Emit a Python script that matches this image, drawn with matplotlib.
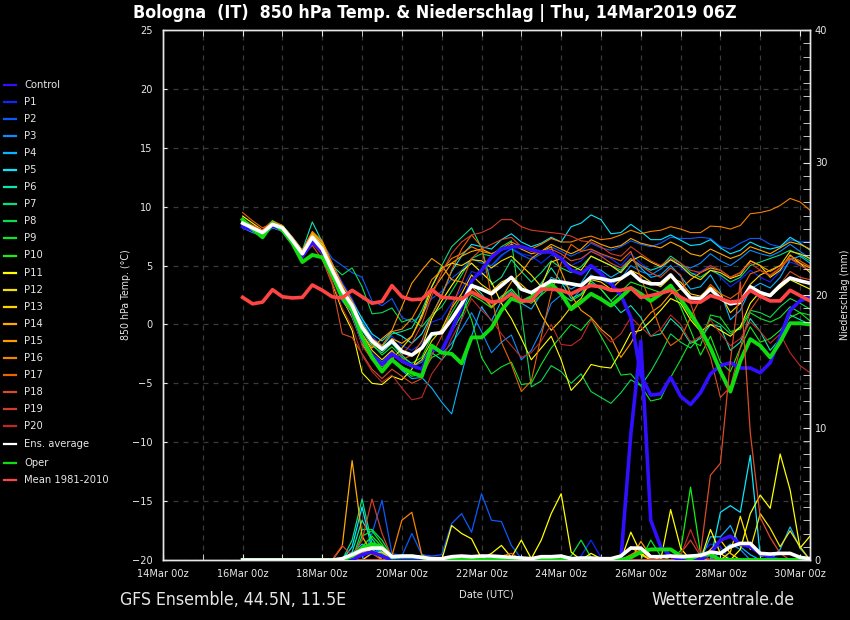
import matplotlib
matplotlib.use('Agg')
import matplotlib.pyplot as plt
import matplotlib.dates as mdates
from matplotlib.lines import Line2D
from matplotlib.ticker import MultipleLocator, FixedLocator
import numpy as np
import pandas as pd

plt.rcParams['font.family'] = ['DejaVu Sans']
plt.rcParams['font.stretch'] = 'condensed'

# ---------------- data ----------------
times = pd.date_range('2019-03-16 00:00', periods=58, freq='6h')
major_days = pd.date_range('2019-03-14 00:00', '2019-03-30 00:00', freq='2D')
minor_days = pd.date_range('2019-03-14 00:00', '2019-03-30 00:00', freq='1D')

labels = ['Control'] + ['P%d' % k for k in range(1, 21)]
colors = ['#3010ff', '#0a28ff', '#0a5aff', '#0a8cff', '#0ab4ff', '#0ae6ff',
          '#0ae6b4', '#0adc82', '#0adc50', '#0ae628', '#14f014', '#ffff00',
          '#f5e100', '#ffd200', '#ffaa00', '#ff9a00', '#f58200', '#eb6400',
          '#dc4b28', '#d23c28', '#c02828']

ctrl = [8.3,8.0,7.6,8.4,8.0,7.0,5.8,7.0,6.2,4.4,
        2.6,1.0,-1.3,-2.6,-3.4,-2.5,-3.1,-3.5,-3.8,-2.1,
        -2.25,-0.5,1.5,3.7,4.6,5.7,6.4,6.6,6.6,6.35,
        6.15,6.15,5.6,4.6,4.3,5.0,4.3,3.45,2.5,0.6,
        -4.3,-6.0,-5.9,-4.5,-6.1,-6.8,-5.8,-4.2,-3.5,-3.25,
        -3.7,-3.7,-4.1,-3.25,-1.1,1.2,2.0,2.3]
P1 = [8.4,8.0,7.7,8.5,8.1,7.2,6.2,7.6,6.6,5.2,
      3.6,2.2,0.4,-1.0,-1.8,-1.0,-1.8,-2.2,-1.6,0.2,
      0.5,1.8,3.0,4.5,4.2,4.8,5.8,6.5,6.0,5.8,
      5.2,5.9,5.5,5.0,5.4,6.3,5.9,5.6,5.0,6.0,
      5.2,4.6,4.9,5.6,4.8,4.2,4.5,5.0,4.0,3.2,
      3.8,4.6,4.0,3.6,4.5,5.3,5.0,4.6]
P2 = [8.5,8.1,7.7,8.4,8.2,7.3,6.3,7.8,6.9,5.6,
      5.0,4.4,4.0,2.0,1.6,2.2,0.6,0.2,0.8,2.2,
      2.8,3.9,4.6,5.6,5.2,5.0,5.9,6.4,5.9,5.5,
      6.0,6.6,6.2,5.8,6.2,6.9,6.5,6.3,6.6,7.1,
      6.8,6.6,6.9,7.4,7.3,7.3,7.4,7.3,6.6,6.4,
      6.9,7.3,7.3,6.8,6.6,7.2,7.0,7.0]
P3 = [8.3,7.9,7.6,8.3,8.0,7.1,6.1,7.3,6.3,4.0,
      2.0,0.9,-1.2,-2.5,-3.2,-2.3,-3.0,-3.6,-3.2,-1.8,
      -2.5,-1.6,-0.4,1.0,-0.6,-2.4,-1.5,-0.9,-3.0,-2.2,
      -0.5,1.8,2.5,2.0,3.0,4.2,3.8,3.4,3.9,5.0,
      4.5,4.2,4.7,5.5,5.0,4.8,5.2,6.0,5.4,5.0,
      5.6,6.3,6.0,5.8,6.2,6.8,6.2,5.6]
P4 = [8.2,7.8,7.5,8.2,7.9,7.0,6.0,7.2,6.3,4.3,
      2.5,0.8,-1.5,-2.8,-3.4,-2.9,-3.9,-4.6,-4.5,-5.4,
      -6.6,-7.6,-4.2,-1.0,1.5,0.3,2.0,2.8,1.8,1.3,
      2.6,4.0,3.6,3.0,3.5,4.8,4.6,4.0,4.5,5.6,
      4.8,4.0,4.2,5.0,4.1,3.0,3.2,4.2,2.8,0.4,
      1.2,3.0,3.5,3.1,4.0,5.5,5.8,5.2]
P5 = [8.5,8.2,7.9,8.6,8.4,7.4,6.3,7.6,6.8,4.8,
      3.4,2.0,0.5,-0.8,-1.4,-0.6,-1.0,-1.6,-0.8,0.8,
      2.5,4.5,5.8,6.8,6.6,6.4,7.2,7.7,7.0,6.6,
      6.9,7.4,7.0,8.3,8.6,9.3,8.9,7.7,7.8,8.5,
      7.9,7.2,7.2,7.6,7.15,6.7,6.8,7.2,6.5,6.0,
      6.3,7.0,6.6,6.4,6.6,7.4,6.9,6.3]
P6 = [8.6,8.3,7.9,8.7,8.4,7.4,6.3,8.7,7.0,4.9,
      3.0,1.5,-0.5,-1.8,-2.4,-1.6,-2.6,-3.4,-3.8,-2.4,
      -3.0,-2.0,0.5,3.5,2.6,1.5,2.4,3.0,2.0,2.4,
      3.5,4.8,3.6,2.2,2.6,3.7,3.0,2.0,1.0,1.6,
      0.6,-1.0,-0.8,0.5,-0.3,-1.6,-1.2,0.0,-0.2,-2.2,
      -1.5,0.5,-0.6,-2.2,-1.2,0.8,0.4,0.0]
P7 = [8.4,8.1,7.8,8.6,8.2,7.2,6.1,7.6,6.6,4.6,
      3.0,1.6,0.2,-1.2,-1.9,-0.8,-0.6,-0.3,1.2,3.2,
      5.0,6.6,7.4,8.2,6.5,3.4,4.0,5.5,4.5,3.6,
      4.4,5.4,4.8,4.4,4.9,5.8,5.4,5.0,4.6,5.6,
      5.0,4.6,4.9,5.8,5.2,4.4,4.0,4.6,4.2,3.6,
      4.0,5.0,5.3,5.6,5.9,6.3,5.9,5.4]
P8 = [8.3,8.0,7.7,8.5,8.1,7.1,6.0,7.5,6.6,5.0,
      4.2,4.8,3.2,0.9,1.0,1.4,0.2,0.5,-0.2,0.8,
      1.5,2.8,4.2,5.6,6.0,5.8,6.6,7.1,1.0,-5.3,
      -4.8,-3.5,-4.0,-5.0,-4.2,-5.7,-6.2,-6.7,-5.8,-4.7,
      -5.2,-4.0,-2.5,-0.8,-1.5,-2.0,-1.0,0.5,0.0,-0.8,
      -0.2,1.2,1.0,0.6,1.5,2.2,1.8,1.3]
P9 = [8.5,8.1,7.8,8.5,8.1,7.1,6.0,7.3,6.4,4.6,
      3.0,1.4,0.0,-1.6,-2.6,-1.9,-2.8,-3.3,-2.8,-1.0,
      -0.6,1.0,2.4,0.4,-2.8,-4.2,-3.6,-3.2,-5.1,-5.0,
      -3.4,-2.0,-1.0,0.0,-0.5,0.5,-1.0,-2.5,-4.3,-4.2,
      -5.2,-6.5,-6.3,-4.5,-3.0,-1.4,-1.8,0.8,0.6,-0.6,
      -0.4,1.0,0.5,0.2,0.6,1.5,1.0,0.8]
P10 = [8.7,8.3,7.9,8.7,8.2,7.1,5.9,7.2,6.3,4.2,
       2.4,1.0,-1.0,-2.5,-3.6,-3.0,-3.8,-4.4,-4.2,-2.8,
       -2.4,-0.6,0.8,2.5,2.0,1.4,2.2,3.0,2.1,1.8,
       2.5,3.2,2.6,2.0,2.5,3.5,3.0,2.0,2.8,3.6,
       3.3,3.0,2.7,3.2,1.5,-0.5,-2.6,-1.0,-3.2,-4.0,
       -2.0,-0.2,-1.5,-1.2,-0.5,0.6,1.0,0.3]
P11 = [9.2,8.6,8.0,8.4,8.0,7.2,6.0,7.4,6.2,3.5,
       1.2,-0.5,-4.1,-5.0,-5.1,-4.4,-4.7,-3.8,-2.0,0.5,
       2.0,3.3,4.5,5.2,4.4,3.6,1.8,0.5,-1.2,-3.0,
       -2.0,-1.0,-3.0,-5.6,-4.7,-3.4,-3.6,-3.7,-2.3,-0.7,
       -0.5,0.3,1.2,2.2,1.8,0.4,-0.6,0.0,-0.5,-1.0,
       -0.2,1.8,2.8,2.4,3.1,3.8,3.4,3.0]
P12 = [8.8,8.3,7.9,8.6,8.2,7.3,6.2,7.7,6.8,4.4,
       2.2,0.6,-1.6,-3.0,-3.8,-3.0,-2.0,-1.0,0.8,3.2,
       4.8,5.2,5.0,5.5,5.4,4.8,5.4,5.8,5.0,4.2,
       3.2,5.3,5.6,5.0,4.6,5.8,5.4,5.0,4.4,5.4,
       5.8,5.3,4.9,5.5,5.0,4.2,3.8,4.6,4.4,3.9,
       4.2,5.4,5.0,4.0,4.6,5.9,5.2,4.4]
P13 = [8.6,8.2,7.9,8.5,8.1,7.2,6.1,7.5,6.5,4.5,
       2.6,1.2,-0.8,-2.2,-3.0,-2.2,-3.2,-3.6,-3.0,-1.4,
       -0.4,1.4,2.6,4.2,3.4,2.8,3.6,4.0,3.4,2.6,
       0.8,-0.5,0.4,1.5,2.2,3.8,3.6,3.0,3.8,4.6,
       4.2,3.6,3.2,4.0,3.6,2.6,2.4,3.2,2.6,1.0,
       1.8,3.4,4.2,4.6,5.0,6.2,6.0,5.6]
P14 = [8.9,8.4,8.0,8.8,8.3,7.3,6.2,7.8,7.0,5.0,
       3.1,1.8,-0.3,-1.6,-2.2,-1.2,-1.6,-1.0,0.6,2.8,
       4.0,5.2,5.8,6.2,6.4,6.0,6.3,6.8,6.4,6.0,
       6.2,6.8,6.4,6.0,6.4,7.2,6.8,6.5,6.7,7.3,
       6.9,6.7,6.5,7.0,6.6,6.0,5.8,6.4,6.0,5.6,
       5.9,6.6,6.3,6.0,6.5,7.0,6.8,6.4]
P15 = [8.7,8.3,7.9,8.6,8.1,7.1,6.0,7.6,6.7,4.8,
       3.3,1.2,-0.8,-2.0,-1.2,-0.5,1.5,3.5,4.6,5.6,
       5.0,3.8,3.6,3.2,2.4,1.5,2.2,3.6,4.4,5.6,
       6.2,6.6,4.5,2.5,1.2,0.6,-0.4,-1.1,-2.8,-1.6,
       0.0,1.0,1.6,2.6,3.0,3.8,4.4,4.8,4.6,4.0,
       4.4,5.4,5.0,4.5,5.0,5.6,5.2,4.8]
P16 = [8.8,8.4,8.0,8.8,8.4,7.4,6.3,7.9,7.1,5.2,
       3.4,2.0,0.0,-1.2,-1.8,-0.6,-0.4,0.5,2.0,3.8,
       4.6,5.6,6.0,6.6,6.2,6.0,6.4,7.0,6.6,6.4,
       6.8,7.3,7.0,7.0,7.3,7.5,7.2,7.3,7.6,8.0,
       7.7,7.9,8.0,8.3,8.1,7.8,7.8,8.35,8.3,8.1,
       8.4,9.4,9.5,9.7,10.1,10.7,10.4,9.7]
P17 = [9.5,8.8,8.2,8.6,8.0,7.0,5.9,7.3,6.3,4.0,
       2.2,0.8,-1.4,-2.6,-3.4,-2.4,-3.0,-2.6,-1.4,0.8,
       2.4,4.6,6.4,7.6,6.6,2.4,-1.5,-3.4,-5.7,-4.8,
       -1.0,2.6,5.2,6.8,6.2,6.4,6.0,5.7,5.4,6.2,
       4.0,1.8,-0.5,-1.8,-1.2,0.6,2.2,3.4,2.6,2.2,
       2.8,4.3,4.6,4.1,4.8,5.8,5.4,4.9]
P18 = [8.9,8.4,8.0,8.6,8.2,7.2,5.8,6.7,5.5,3.4,
       -0.8,-1.1,-2.5,-3.8,-4.6,-3.8,-4.4,-5.0,-4.6,-2.6,
       -1.0,1.5,3.5,5.6,6.4,6.8,7.2,7.4,6.6,6.2,
       6.0,6.4,6.0,5.4,5.6,6.2,5.8,5.2,4.8,5.6,
       5.0,4.4,4.0,4.8,4.2,1.8,-0.8,-2.8,-6.2,-5.3,
       -2.0,1.2,2.4,2.6,3.4,4.5,4.0,3.8]
P19 = [8.6,8.2,7.8,8.4,8.0,7.0,5.9,7.2,6.2,4.4,
       2.8,1.0,-1.8,-3.0,-3.8,-2.8,-2.6,-1.6,0.0,2.4,
       4.4,6.0,7.0,7.6,7.8,8.2,8.9,8.9,8.3,8.0,
       7.9,7.8,7.7,7.5,7.1,7.0,6.6,6.0,5.8,6.6,
       6.0,5.4,5.0,5.6,5.2,4.6,4.4,5.0,4.6,4.0,
       4.4,5.2,4.6,4.2,4.8,5.6,5.0,4.6]
P20 = [8.4,8.0,7.6,8.3,7.9,6.9,5.6,6.9,5.9,3.6,
       1.4,-0.2,-2.6,-4.0,-4.9,-4.3,-5.4,-6.4,-6.2,-4.2,
       -3.0,-1.2,0.4,2.2,1.2,0.4,-0.8,-1.8,-2.8,-2.4,
       -1.4,0.0,-1.7,-1.8,-1.2,0.4,-0.6,-1.5,-0.8,0.6,
       -0.2,-1.0,-0.4,0.8,0.0,-1.5,-1.0,0.4,-0.8,-1.8,
       -1.2,0.2,-0.6,-1.6,-0.8,-2.4,-3.5,-4.1]
members_t = [ctrl, P1, P2, P3, P4, P5, P6, P7, P8, P9, P10,
             P11, P12, P13, P14, P15, P16, P17, P18, P19, P20]

ens_avg = [8.6,8.2,7.8,8.5,8.2,7.15,6.0,7.4,6.4,4.6,
           2.9,1.6,-0.25,-1.4,-2.1,-1.4,-2.3,-2.6,-2.0,-0.8,
           -0.7,0.45,1.75,3.3,3.0,2.6,3.3,4.0,3.0,2.7,
           3.2,3.7,3.6,3.45,3.3,4.0,3.9,3.7,3.9,4.45,
           3.7,3.45,3.45,4.2,3.2,2.25,2.2,3.0,2.2,1.75,
           1.9,3.2,2.7,2.45,3.3,3.95,3.7,3.5]
oper = [8.9,8.1,7.4,8.6,8.0,6.9,5.3,5.9,5.7,4.2,
        2.3,1.2,-1.1,-2.8,-4.0,-3.0,-3.7,-4.1,-4.4,-1.8,
        -2.4,-2.5,-3.3,-1.1,-1.1,-0.3,1.2,2.2,1.9,2.3,
        2.9,3.45,2.6,1.3,1.9,2.6,2.15,1.6,2.3,3.1,
        2.6,2.0,2.6,3.3,2.15,0.9,-0.4,-2.0,-4.0,-5.7,
        -3.1,-1.25,-1.8,-2.8,-1.5,0.1,0.1,0.0]
clim = [2.3,1.75,1.9,2.95,2.35,2.25,2.3,3.35,2.9,2.35,
        2.25,2.9,2.35,1.8,1.95,3.3,2.35,2.1,2.15,2.95,
        2.3,2.25,2.15,2.75,2.3,1.9,2.0,2.6,2.0,2.0,
        3.0,3.0,2.9,2.6,3.0,3.3,3.2,2.9,2.9,3.1,
        2.3,2.45,2.65,2.9,2.3,1.9,1.9,2.45,2.2,1.9,
        2.0,2.9,2.4,2.0,2.0,2.9,2.45,2.0]

# precipitation (mm per 6 h), step index -> value, all other steps 0
pr_ctrl = {12: 0.4, 13: 0.6, 14: 0.3, 39: 9.5, 40: 16.5, 41: 3.0, 42: 1.0,
           43: 0.3, 47: 0.5, 48: 1.5, 49: 1.8, 50: 1.2, 51: 1.0, 52: 0.5, 53: 0.2}
pr_P1 = {13: 0.5, 14: 0.8, 34: 0.3, 35: 1.5, 36: 0.2, 46: 0.5, 47: 1.2, 48: 1.0}
pr_P2 = {13: 2.0, 14: 4.5, 15: 0.5, 16: 0.3, 17: 2.0, 18: 0.4, 19: 0.3, 20: 0.4,
         21: 2.75, 22: 3.5, 23: 2.1, 24: 5.0, 25: 3.0, 26: 2.9, 27: 1.1, 28: 0.1}
pr_P3 = {12: 0.6, 13: 1.0, 14: 0.4, 48: 0.6, 49: 1.2, 50: 0.8}
pr_P4 = {11: 0.5, 12: 1.2, 13: 0.8, 47: 1.75, 48: 1.75, 49: 2.6, 50: 1.0,
         51: 0.4, 54: 0.8, 55: 2.5, 56: 0.9}
pr_P5 = {11: 1.0, 12: 4.0, 13: 0.8, 14: 0.3, 48: 3.6, 49: 4.1, 50: 3.6,
         51: 7.9, 52: 0.3, 53: 0.3}
pr_P6 = {11: 0.6, 12: 3.0, 13: 1.6, 14: 0.6, 15: 0.2}
pr_P7 = {11: 1.5, 12: 4.6, 13: 1.2, 14: 0.5}
pr_P8 = {12: 2.3, 13: 2.3, 14: 1.5, 15: 0.3, 33: 0.3, 34: 1.5, 35: 0.2}
pr_P9 = {12: 1.8, 13: 2.2, 14: 1.2, 41: 1.5, 42: 0.3}
pr_P10 = {12: 1.0, 13: 1.8, 14: 1.0, 44: 0.7, 45: 5.5, 46: 0.5}
pr_P11 = {21: 2.6, 22: 2.0, 23: 1.6, 24: 0.1, 25: 0.5, 26: 1.1, 27: 0.2,
          28: 1.5, 29: 0.1, 30: 1.5, 31: 3.5, 32: 5.0, 33: 0.6, 35: 0.5,
          36: 0.1, 39: 2.1, 40: 0.5, 43: 3.8, 44: 0.9, 47: 2.3, 48: 0.5,
          50: 0.8, 51: 3.5, 52: 4.9, 53: 3.9, 54: 8.0, 55: 5.3, 56: 0.9, 57: 1.8}
pr_P12 = {12: 0.5, 13: 0.8, 49: 0.6, 50: 3.3, 51: 0.8, 52: 3.5, 53: 2.4,
          54: 1.0, 55: 2.2, 56: 1.0}
pr_P13 = {13: 0.5, 14: 0.6, 38: 0.3, 39: 1.0, 40: 0.4, 47: 0.8, 48: 1.5, 49: 0.5}
pr_P14 = {10: 1.0, 11: 7.5, 12: 1.8, 13: 0.5, 14: 0.2}
pr_P15 = {12: 0.6, 13: 1.0, 14: 0.8, 40: 1.4, 41: 0.3}
pr_P16 = {15: 0.3, 16: 3.0, 17: 3.6, 18: 0.4, 39: 0.4, 40: 0.8}
pr_P17 = {12: 0.8, 13: 0.5, 26: 0.3, 27: 0.5}
pr_P18 = {46: 0.5, 47: 6.4, 48: 7.3, 49: 15.0, 50: 21.0, 51: 9.6, 52: 3.2,
          53: 1.7, 54: 0.5}
pr_P19 = {10: 1.1, 11: 0.3, 12: 1.5, 13: 4.6, 14: 2.0, 15: 0.2, 44: 0.5,
          45: 1.5, 46: 0.3}
pr_P20 = {44: 0.3, 45: 2.3, 46: 0.4}
pr_ens = {10: 0.1, 11: 0.4, 12: 0.75, 13: 0.9, 14: 0.9, 15: 0.25, 16: 0.3,
          17: 0.3, 18: 0.2, 19: 0.1, 20: 0.1, 21: 0.25, 22: 0.3, 23: 0.25,
          24: 0.3, 25: 0.3, 26: 0.25, 27: 0.2, 28: 0.15, 29: 0.1, 30: 0.25,
          31: 0.25, 32: 0.3, 33: 0.1, 34: 0.15, 35: 0.15, 36: 0.1, 37: 0.1,
          38: 0.3, 39: 0.9, 40: 0.9, 41: 0.25, 42: 0.25, 43: 0.3, 44: 0.25,
          45: 0.3, 46: 0.35, 47: 0.6, 48: 0.5, 49: 1.0, 50: 1.25, 51: 1.25,
          52: 0.5, 53: 0.45, 54: 0.5, 55: 0.5, 56: 0.2, 57: 0.1}
pr_oper = {11: 0.3, 12: 0.9, 13: 1.2, 14: 1.0, 15: 0.2, 16: 0.25, 17: 0.25,
           18: 0.2, 39: 0.2, 40: 0.6, 41: 0.8, 42: 0.8, 43: 0.8, 44: 0.3,
           45: 0.1, 46: 0.4, 47: 0.4}
members_p = [pr_ctrl, pr_P1, pr_P2, pr_P3, pr_P4, pr_P5, pr_P6, pr_P7, pr_P8,
             pr_P9, pr_P10, pr_P11, pr_P12, pr_P13, pr_P14, pr_P15, pr_P16,
             pr_P17, pr_P18, pr_P19, pr_P20]

title = 'Bologna  (IT)  850 hPa Temp. & Niederschlag | Thu, 14Mar2019 06Z'


def full(d):
    a = np.zeros(len(times))
    for k, v in d.items():
        a[k] = v
    return a


# ---------------- figure ----------------
W, H = 850, 620
fig = plt.figure(figsize=(W / 100, H / 100), dpi=100, facecolor='black')
ax = fig.add_axes([163 / W, 60 / H, 647 / W, 530 / H])
ax.set_facecolor('black')
ax2 = ax.twinx()

TXT = '#e6e6e6'
GRID = '#3a3a3a'

# temperature
for k, (col, ser) in enumerate(zip(colors, members_t)):
    if k == 0:
        continue
    ax.plot(times, ser, color=col, lw=0.8, zorder=2)
ax.plot(times, ctrl, color=colors[0], lw=2.6, zorder=3)
ax.plot(times, oper, color='#10dd10', lw=2.8, zorder=4)
ax.plot(times, ens_avg, color='white', lw=2.6, zorder=5)
ax.plot(times, clim, color='#ff4444', lw=2.6, zorder=6)

# precipitation
for k, (col, d) in enumerate(zip(colors, members_p)):
    if k == 0:
        continue
    ax2.plot(times, full(d), color=col, lw=0.9, zorder=2)
ax2.plot(times, full(pr_ctrl), color=colors[0], lw=2.6, zorder=3)
ax2.plot(times, full(pr_oper), color='#10dd10', lw=2.8, zorder=4)
ax2.plot(times, full(pr_ens), color='white', lw=2.6, zorder=5)

# axes limits / ticks
ax.set_xlim(pd.Timestamp('2019-03-14 00:00'), pd.Timestamp('2019-03-30 06:00'))
ax.set_ylim(-20, 25)
ax2.set_ylim(0, 40)

ax.xaxis.set_major_locator(FixedLocator(mdates.date2num(major_days)))
ax.xaxis.set_minor_locator(FixedLocator(mdates.date2num(minor_days)))
ax.xaxis.set_major_formatter(mdates.DateFormatter('%d%b %Hz'))
ax.yaxis.set_major_locator(MultipleLocator(5))
ax2.yaxis.set_major_locator(MultipleLocator(10))
ax2.yaxis.set_minor_locator(MultipleLocator(1))

ax.grid(True, which='both', axis='x', color=GRID, lw=0.9, ls=(0, (4, 4)))
ax.grid(True, which='major', axis='y', color=GRID, lw=0.9, ls=(0, (4, 4)))
ax.set_axisbelow(True)

ax.tick_params(axis='x', which='both', direction='in', top=True, length=4,
               color=TXT, labelcolor=TXT, labelsize=7.8, pad=6.5)
ax.tick_params(axis='y', which='major', direction='in', length=3,
               color=TXT, labelcolor=TXT, labelsize=7.8, pad=7.5)
ax2.tick_params(axis='y', which='both', direction='in', length=5,
                color=TXT, labelcolor=TXT, labelsize=7.8, pad=3.5)

for a in (ax, ax2):
    for s in a.spines.values():
        s.set_color(TXT)
        s.set_linewidth(1.0)

ax.set_ylabel('850 hPa Temp. (°C)', color=TXT, fontsize=7.6)
ax.yaxis.set_label_coords(-0.0495, 0.5)
ax2.set_ylabel('Niederschlag (mm)', color=TXT, fontsize=7.6)
ax2.yaxis.set_label_coords(1.046, 0.5)
ax.set_xlabel('Date (UTC)', color=TXT, fontsize=8)
ax.xaxis.set_label_coords(0.5, -0.055)

fig.text(435 / W, 1 - 13 / H, title, color='white', fontsize=12.8,
         fontweight='bold', ha='center', va='center')
fig.text(120 / W, 20 / H, 'GFS Ensemble, 44.5N, 11.5E', color=TXT,
         fontsize=12.7, ha='left', va='center')
fig.text(795 / W, 20 / H, 'Wetterzentrale.de', color=TXT,
         fontsize=12.7, ha='right', va='center')

# legend
leg_labels = labels + ['Ens. average', 'Oper', 'Mean 1981-2010']
leg_colors = colors + ['white', '#10dd10', '#ff4444']
for k, (lab, col) in enumerate(zip(leg_labels, leg_colors)):
    ypix = 85 + 17.05 * k
    if k >= 21:
        ypix = [444, 463, 480][k - 21]
    y = 1 - ypix / H
    fig.add_artist(Line2D([4 / W, 16 / W], [y, y], transform=fig.transFigure,
                          color=col, lw=1.6))
    fig.text(24 / W, y, lab, color=TXT, fontsize=8, ha='left', va='center')

fig.savefig('out.png', dpi=100, facecolor='black')
